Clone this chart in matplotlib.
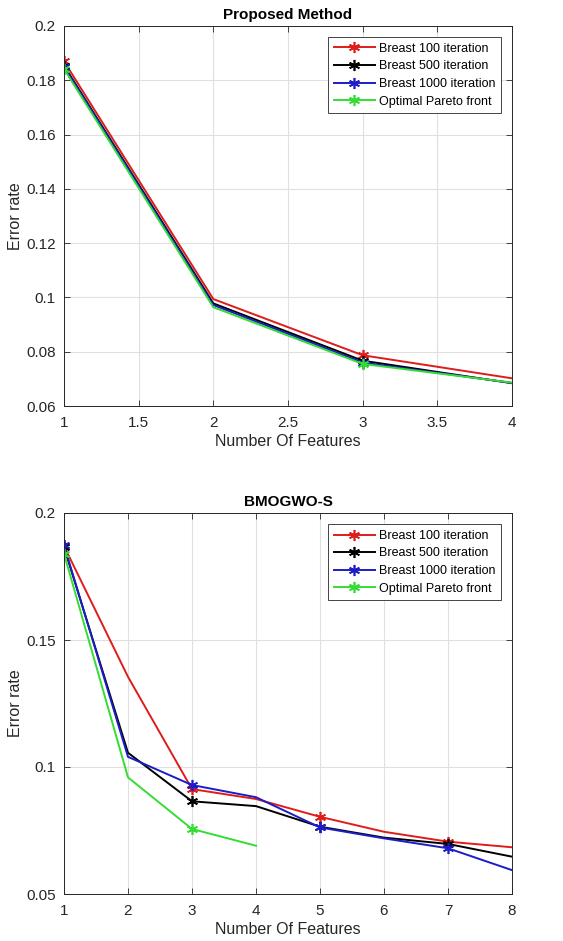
import numpy as np
import matplotlib
matplotlib.use('Agg')
import matplotlib.pyplot as plt

plt.rcParams['font.family'] = ['Liberation Sans', 'DejaVu Sans']

labels = ['Breast 100 iteration', 'Breast 500 iteration',
          'Breast 1000 iteration', 'Optimal Pareto front']
colors = ['#de1c1c', '#000000', '#1c1cc8', '#33dd33']

# Proposed Method
x_top = [1, 2, 3, 4]
top_100 = [0.1870, 0.0994, 0.0787, 0.0702]
top_500 = [0.1854, 0.0978, 0.0767, 0.0684]
top_1000 = [0.1850, 0.0972, 0.0760, 0.0685]
top_pareto = [0.1842, 0.0964, 0.0755, 0.0686]

# BMOGWO-S
x_bot = [1, 2, 3, 4, 5, 6, 7, 8]
bot_100 = [0.1870, 0.1355, 0.0913, 0.0874, 0.0804, 0.0745, 0.0706, 0.0684]
bot_500 = [0.1866, 0.1056, 0.0865, 0.0846, 0.0765, 0.0722, 0.0697, 0.0647]
bot_1000 = [0.1873, 0.1040, 0.0929, 0.0881, 0.0762, 0.0719, 0.0680, 0.0594]
x_pareto = [1, 2, 3, 4]
bot_pareto = [0.1840, 0.0959, 0.0756, 0.0690]

fig = plt.figure(figsize=(5.63, 9.41), dpi=100)
ax1 = fig.add_axes([64/563, 1-406/941, 448/563, 380/941])
ax2 = fig.add_axes([64/563, 1-894/941, 448/563, 381/941])

asterisk = (6, 2, 0)


def style(ax, title):
    ax.set_title(title, fontsize=11, fontweight='bold', pad=5)
    ax.set_xlabel('Number Of Features', fontsize=11.5, color='#262626', labelpad=3)
    ax.set_ylabel('Error rate', fontsize=11.5, color='#262626', labelpad=2)
    ax.grid(True, color='#e0e0e0', linewidth=0.8)
    ax.set_axisbelow(True)
    ax.tick_params(direction='in', top=True, right=True, labelsize=11,
                   colors='#262626', length=4, width=0.6)
    ax.tick_params(axis='x', pad=7)
    ax.tick_params(axis='y', pad=6)
    for s in ax.spines.values():
        s.set_color('#262626')
        s.set_linewidth(0.7)
    leg = ax.legend(loc='upper right', fontsize=9, handlelength=3.3,
                    fancybox=False, edgecolor='#262626', framealpha=1,
                    borderaxespad=0.9, labelspacing=0.45, handletextpad=0.3,
                    borderpad=0.45)
    leg.get_frame().set_linewidth(0.6)


series_top = [top_100, top_500, top_1000, top_pareto]
for y, c, lab in zip(series_top, colors, labels):
    ax1.plot(x_top, y, color=c, lw=1.4, marker=asterisk, ms=8, mew=1.2,
             markevery=[0, 2], label=lab)
ax1.set_xlim(1, 4)
ax1.set_ylim(0.06, 0.2)
ax1.set_xticks([1, 1.5, 2, 2.5, 3, 3.5, 4])
ax1.set_xticklabels(['1', '1.5', '2', '2.5', '3', '3.5', '4'])
ax1.set_yticks([0.06, 0.08, 0.1, 0.12, 0.14, 0.16, 0.18, 0.2])
ax1.set_yticklabels(['0.06', '0.08', '0.1', '0.12', '0.14', '0.16', '0.18', '0.2'])
style(ax1, 'Proposed Method')

series_bot = [(x_bot, bot_100), (x_bot, bot_500), (x_bot, bot_1000), (x_pareto, bot_pareto)]
for (xx, y), c, lab in zip(series_bot, colors, labels):
    ax2.plot(xx, y, color=c, lw=1.4, marker=asterisk, ms=8, mew=1.2,
             markevery=slice(0, None, 2), label=lab)
ax2.set_xlim(1, 8)
ax2.set_ylim(0.05, 0.2)
ax2.set_xticks(range(1, 9))
ax2.set_yticks([0.05, 0.1, 0.15, 0.2])
ax2.set_yticklabels(['0.05', '0.1', '0.15', '0.2'])
style(ax2, 'BMOGWO-S')

fig.savefig('out.png', dpi=100)
